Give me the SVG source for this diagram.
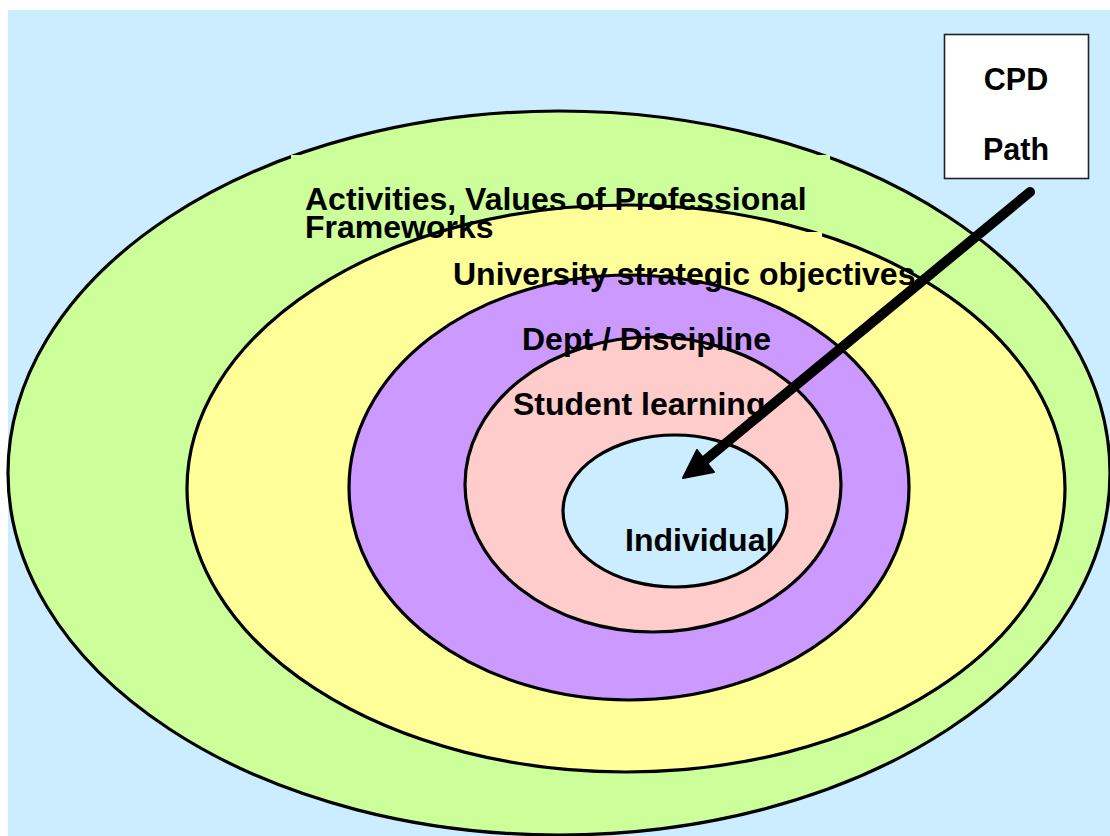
<svg xmlns="http://www.w3.org/2000/svg" width="1110" height="836" viewBox="0 0 1110 836">
<style>
.ring{stroke:#000;stroke-width:3.2}
.lbl{font-family:"Liberation Sans",Arial,sans-serif;font-weight:bold;font-size:32px;fill:#000}
.box{font-family:"Liberation Sans",Arial,sans-serif;font-weight:bold;font-size:30.5px;fill:#000;text-anchor:middle}
</style>
<rect x="0" y="0" width="1110" height="836" fill="#fff"/>
<rect x="8" y="10" width="1102" height="826" fill="#CCECFF"/>
<g id="frameworks">
<ellipse class="ring" cx="559" cy="473" rx="551" ry="362" fill="#CCFF99"/>
<rect x="291" y="155" width="539" height="80" fill="#CCFF99"/>
</g>
<g id="university">
<ellipse class="ring" cx="626" cy="488.5" rx="439" ry="283.5" fill="#FFFF99"/>
<rect x="452" y="232" width="370" height="50" fill="#FFFF99"/>
</g>
<g id="dept">
<ellipse class="ring" cx="629" cy="487.5" rx="280" ry="212.5" fill="#CC99FF"/>
</g>
<g id="student">
<ellipse class="ring" cx="653" cy="484.5" rx="188" ry="147.5" fill="#FFCCCC"/>
</g>
<g id="individual">
<ellipse class="ring" cx="675" cy="511" rx="112" ry="76" fill="#CCECFF"/>
</g>
<g id="labels">
<text class="lbl" x="305" y="210">Activities, Values of Professional</text>
<text class="lbl" x="305" y="238">Frameworks</text>
<text class="lbl" x="453" y="285">University strategic objectives</text>
<text class="lbl" x="522" y="350">Dept / Discipline</text>
<text class="lbl" x="513" y="415">Student learning</text>
<text class="lbl" x="625" y="551">Individual</text>
</g>
<g id="cpd">
<rect x="944.5" y="34.5" width="144" height="144" fill="#fff" stroke="#222" stroke-width="1.6"/>
<text class="box" x="1016" y="90">CPD</text>
<text class="box" x="1016" y="160">Path</text>
</g>
<g id="connectors">
<line x1="1030" y1="192" x2="703" y2="462" stroke="#000" stroke-width="10" stroke-linecap="round"/>
<polygon points="683,478 697,450 714,472" fill="#000" stroke="#000" stroke-width="2" stroke-linejoin="round"/>
</g>
</svg>
